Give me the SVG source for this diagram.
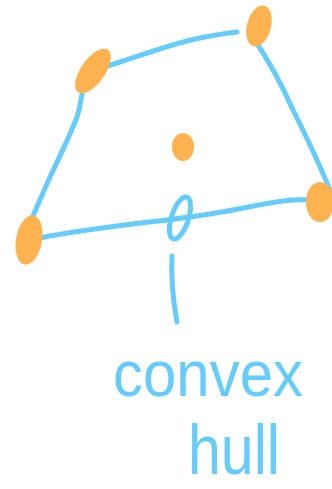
<svg xmlns="http://www.w3.org/2000/svg" width="332" height="489" viewBox="0 0 332 489">
<style>
.pt{fill:#FFB24F}
.edge{fill:none;stroke:#66CCFF;stroke-width:5;stroke-linecap:round;stroke-linejoin:round}
.lbl{font-family:"Liberation Sans","DejaVu Sans",sans-serif;fill:#66CCFF}
</style>
<rect width="332" height="489" fill="#ffffff"/>
<g id="connectors">
<path class="edge" d="M95,70 C130,60 165,45 200,38 C215,35 228,33 237,32"/>
<path class="edge" d="M252,36 C265,55 282,85 293,110 C308,140 322,170 331,193"/>
<path class="edge" d="M84,82 C82,95 80,108 77,117 C68,140 58,160 50,177 C40,200 30,222 23,240" stroke-width="4"/>
<path class="edge" d="M40,238 C80,230 125,225 167,220 C190,217 212,214 233,210 C255,206 275,201 293,200 C310,199 322,200 332,200"/>
<ellipse class="edge" cx="180" cy="218" rx="8.5" ry="22" transform="rotate(18 180 218)"/>
<path class="edge" d="M172,256 C171,275 173,300 177,322"/>
</g>
<g id="node-top-right"><ellipse class="pt" cx="259" cy="26" rx="12" ry="21" transform="rotate(15 259 26)"/></g>
<g id="node-top-left"><ellipse class="pt" cx="93" cy="71" rx="12" ry="26" transform="rotate(35 93 71)"/></g>
<g id="node-center"><ellipse class="pt" cx="183" cy="147" rx="11" ry="14"/></g>
<g id="node-bottom-left"><ellipse class="pt" cx="29" cy="240" rx="13" ry="25" transform="rotate(10 29 240)"/></g>
<g id="node-right"><ellipse class="pt" cx="320" cy="202" rx="14" ry="20"/></g>
<g id="label">
<text class="lbl" x="113" y="396" font-size="64" textLength="190" lengthAdjust="spacingAndGlyphs">convex</text>
<text class="lbl" x="188" y="474" font-size="70" textLength="92" lengthAdjust="spacingAndGlyphs">hull</text>
</g>
</svg>
